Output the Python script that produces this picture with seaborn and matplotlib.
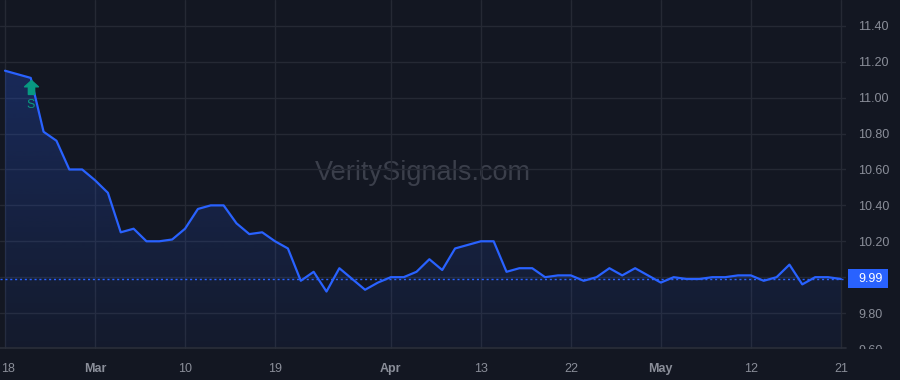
import numpy as np
import pandas as pd
import matplotlib
matplotlib.use("Agg")
import matplotlib.pyplot as plt
import matplotlib.transforms as mtransforms
from matplotlib.patches import Rectangle
from matplotlib.path import Path
import seaborn as sns

# ---- data ----
prices = [11.15, 11.13, 11.11, 10.81, 10.76, 10.60, 10.60, 10.54, 10.47, 10.25,
          10.27, 10.20, 10.20, 10.21, 10.27, 10.38, 10.40, 10.40, 10.30, 10.24,
          10.25, 10.20, 10.16, 9.98, 10.03, 9.92, 10.05, 9.99, 9.93, 9.97,
          10.00, 10.00, 10.03, 10.10, 10.04, 10.16, 10.18, 10.20, 10.20, 10.03,
          10.05, 10.05, 10.00, 10.01, 10.01, 9.98, 10.00, 10.05, 10.01, 10.05,
          10.01, 9.97, 10.00, 9.99, 9.99, 10.00, 10.00, 10.01, 10.01, 9.98,
          10.00, 10.07, 9.96, 10.00, 10.00, 9.99]
bar_index = list(range(len(prices)))
xtick_pos = [0, 7, 14, 21, 30, 37, 44, 51, 58, 65]
xtick_labels = ['18', 'Mar', '10', '19', 'Apr', '13', '22', 'May', '12', '21']
month_labels = {'Mar', 'Apr', 'May'}
ytick_vals = [9.60, 9.80, 10.00, 10.20, 10.40, 10.60, 10.80, 11.00, 11.20, 11.40]
hidden_ytick = [10.00]  # covered by the last-price label
signal_idx = [2]
signal_text = ['S']
last_price = prices[-1]
watermark = 'VeritySignals.com'

df = pd.DataFrame({'i': bar_index, 'price': prices})

BG = '#131722'
GRID = '#252934'
TXT = '#8a8e99'
BLUE = '#2962ff'
TEAL = '#089981'

sns.set_theme(style='dark')
plt.rcParams['font.family'] = ['Liberation Sans', 'DejaVu Sans']

fig = plt.figure(figsize=(9, 3.8), dpi=100, facecolor=BG)
ax = fig.add_axes([0.0, 31 / 380, 846 / 900, 349 / 380])
ax.set_facecolor(BG)

ymin, ymax = 9.606, 11.544
ax.set_xlim(-0.39, 65.4)
ax.set_ylim(ymin, ymax)

# gradient area fill
poly = ax.fill_between(df['i'], df['price'], ymin, color='none', lw=0)
grad = np.linspace(0, 1, 256)
rgba = np.zeros((256, 1, 4))
rgba[:, 0, 0] = 41 / 255
rgba[:, 0, 1] = 98 / 255
rgba[:, 0, 2] = 1.0
rgba[:, 0, 3] = 0.05 + 0.20 * grad
im = ax.imshow(rgba, aspect='auto', origin='lower',
               extent=[-0.39, 65.4, ymin, max(prices)], zorder=1)
im.set_clip_path(poly.get_paths()[0], transform=ax.transData)

sns.lineplot(data=df, x='i', y='price', ax=ax, color=BLUE, lw=1.6, zorder=3)

# last price dotted line
ax.axhline(last_price, color=BLUE, lw=1.0, ls=(0, (1.5, 2)), zorder=2)

# grid
ax.set_xticks(xtick_pos)
ax.set_yticks(ytick_vals)
ax.grid(True, color=GRID, lw=1.0)
ax.set_axisbelow(True)
for s in ax.spines.values():
    s.set_visible(False)
ax.axhline(ymin, color='#2a2e39', lw=1.2, clip_on=False)

ax.yaxis.tick_right()
ax.set_yticklabels(['' if v in hidden_ytick else f'{v:.2f}' for v in ytick_vals])
ax.tick_params(axis='y', length=0, pad=9, labelsize=9, labelcolor=TXT)
ax.set_xticklabels(xtick_labels)
ax.tick_params(axis='x', length=0, pad=10, labelsize=9, labelcolor=TXT)
for k, lab in enumerate(ax.get_xticklabels()):
    if lab.get_text() in month_labels:
        lab.set_fontweight('bold')
    if k == 0:
        lab.set_horizontalalignment('left')
        lab.set_transform(lab.get_transform() +
                          mtransforms.ScaledTranslation(-4 / 100, 0, fig.dpi_scale_trans))
for lab in ax.get_yticklabels():
    lab.set_horizontalalignment('left')
clip_bb = mtransforms.TransformedBbox(
    mtransforms.Bbox.from_extents(0, 31 / 380, 1, 1), fig.transFigure)
for lab in ax.get_yticklabels():
    lab.set_clip_box(clip_bb)
    lab.set_clip_on(True)
ax.set_xlabel('')
ax.set_ylabel('')

# last price label box on the price scale
base_tr = mtransforms.blended_transform_factory(ax.transAxes, ax.transData)
anchor = fig.dpi_scale_trans + mtransforms.ScaledTranslation(1.0, last_price, base_tr)
box = Rectangle((2 / 100, -9.5 / 100), 40 / 100, 19 / 100, transform=anchor,
                facecolor=BLUE, edgecolor='none', clip_on=False, zorder=5)
ax.add_patch(box)
ax.text(12 / 100, 0, f'{last_price:.2f}', transform=anchor,
        ha='left', va='center', color='white', fontsize=9, clip_on=False, zorder=6)

# signal markers
arrow = Path([(0, 1), (-1, 0.1), (-0.45, 0.1), (-0.45, -1), (0.45, -1),
              (0.45, 0.1), (1, 0.1), (0, 1)],
             [Path.MOVETO] + [Path.LINETO] * 6 + [Path.CLOSEPOLY])
for idx, txt in zip(signal_idx, signal_text):
    tr_arrow = mtransforms.offset_copy(ax.transData, fig=fig, x=0, y=-6.5, units='points')
    ax.plot([idx], [prices[idx]], marker=arrow, ms=10, color=TEAL,
            transform=tr_arrow, zorder=4, lw=0)
    tr_txt = mtransforms.offset_copy(ax.transData, fig=fig, x=0, y=-19.5, units='points')
    ax.text(idx, prices[idx], txt, transform=tr_txt, color=TEAL,
            ha='center', va='center', fontsize=9, zorder=4)

# watermark
ax.text(0.5, 1 - 173 / 349, watermark, transform=ax.transAxes, ha='center', va='center',
        fontsize=19.5, color='#3b3f4b', zorder=0.5)

fig.savefig('out.png', dpi=100, facecolor=BG)
